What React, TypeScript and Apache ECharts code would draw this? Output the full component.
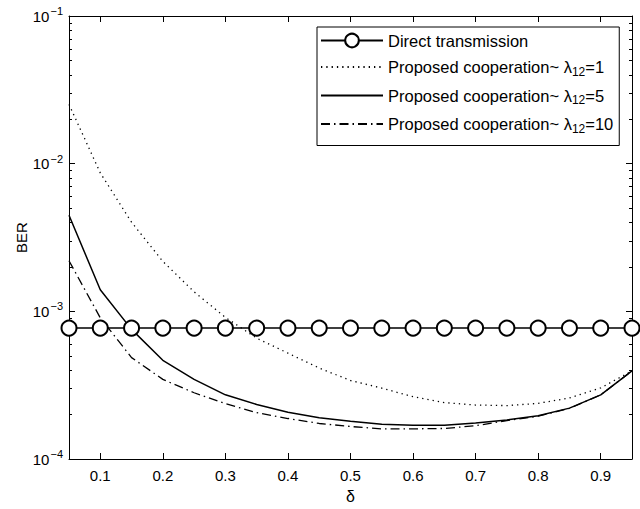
import React, { useEffect, useRef } from 'react';
import * as echarts from 'echarts';

const deltaValues = [0.05, 0.1, 0.15, 0.2, 0.25, 0.3, 0.35, 0.4, 0.45, 0.5, 0.55, 0.6, 0.65, 0.7, 0.75, 0.8, 0.85, 0.9, 0.95];
const directBER = [7.7e-4, 7.7e-4, 7.7e-4, 7.7e-4, 7.7e-4, 7.7e-4, 7.7e-4, 7.7e-4, 7.7e-4, 7.7e-4, 7.7e-4, 7.7e-4, 7.7e-4, 7.7e-4, 7.7e-4, 7.7e-4, 7.7e-4, 7.7e-4, 7.7e-4];
const lambda1BER = [0.0252, 0.00866, 0.00401, 0.00218, 0.001355, 0.00091, 0.000658, 0.000521, 0.000413, 0.00034, 0.000302, 0.000264, 0.000241, 0.000232, 0.00023, 0.000238, 0.000259, 0.000303, 0.000395];
const lambda5BER = [0.00447, 0.0014, 0.000755, 0.000466, 0.000346, 0.000272, 0.000234, 0.000207, 0.00019, 0.00018, 0.000172, 0.000169, 0.000169, 0.000175, 0.000184, 0.000196, 0.000221, 0.000272, 0.000395];
const lambda10BER = [0.0022, 0.000904, 0.000486, 0.000346, 0.000281, 0.000237, 0.000206, 0.000188, 0.000174, 0.000166, 0.00016, 0.00016, 0.000161, 0.000168, 0.000182, 0.000195, 0.00022, 0.000272, 0.000395];

const xTickValues = [0.1, 0.2, 0.3, 0.4, 0.5, 0.6, 0.7, 0.8, 0.9];
const yMajorTicks = [1e-4, 1e-3, 1e-2, 1e-1];
const yMinorTicks = [2e-4, 3e-4, 4e-4, 5e-4, 6e-4, 7e-4, 8e-4, 9e-4, 2e-3, 3e-3, 4e-3, 5e-3, 6e-3, 7e-3, 8e-3, 9e-3, 2e-2, 3e-2, 4e-2, 5e-2, 6e-2, 7e-2, 8e-2, 9e-2];

const seriesNames = ['Direct transmission', 'Proposed cooperation~ λ12=1', 'Proposed cooperation~ λ12=5', 'Proposed cooperation~ λ12=10'];
const legendLabels: Record<string, string> = {
  'Direct transmission': '{t|Direct transmission}',
  'Proposed cooperation~ λ12=1': '{t|Proposed cooperation~ λ}{s|12}{t|=1}',
  'Proposed cooperation~ λ12=5': '{t|Proposed cooperation~ λ}{s|12}{t|=5}',
  'Proposed cooperation~ λ12=10': '{t|Proposed cooperation~ λ}{s|12}{t|=10}',
};

const FONT = '"Liberation Sans", Arial, sans-serif';

export default function App() {
  const ref = useRef<HTMLDivElement>(null);
  useEffect(() => {
    document.body.style.margin = '0';
    const chart = echarts.init(ref.current!, null, { renderer: 'svg' });
    const pairs = (ys: number[]) => deltaValues.map((x, i) => [x, ys[i]]);
    const black = '#000';
    const yBase = { type: 'log', logBase: 10, min: 1e-4, max: 1e-1, splitLine: { show: false } };
    const xBase = { type: 'value', min: 0.05, max: 0.95, splitLine: { show: false } };
    chart.setOption({
      animation: false,
      backgroundColor: '#fff',
      grid: { left: 69, right: 8, top: 16, bottom: 47 },
      legend: {
        orient: 'vertical',
        left: 317,
        top: 27,
        itemWidth: 62,
        itemHeight: 17,
        itemGap: 7.5,
        padding: [5, 6, 11, 3],
        borderColor: '#000',
        borderWidth: 1,
        backgroundColor: '#fff',
        data: [
          { name: seriesNames[0] },
          { name: seriesNames[1], itemStyle: { opacity: 0 } },
          { name: seriesNames[2], itemStyle: { opacity: 0 } },
          { name: seriesNames[3], itemStyle: { opacity: 0 } },
        ],
        formatter: (name: string) => legendLabels[name],
        textStyle: {
          color: black,
          fontFamily: FONT,
          fontSize: 16.5,
          rich: {
            t: { fontSize: 16.5, lineHeight: 20, fontFamily: FONT, color: black },
            s: { fontSize: 12, lineHeight: 12, padding: [9, 0, 0, 0], fontFamily: FONT, color: black },
          },
        },
      },
      xAxis: [
        {
          ...xBase,
          position: 'bottom',
          axisLine: { show: true, onZero: false, lineStyle: { color: black, width: 1 } },
          axisTick: { show: true, inside: true, length: 6, customValues: xTickValues, lineStyle: { color: black } },
          axisLabel: {
            customValues: xTickValues,
            formatter: (v: number) => v.toFixed(1),
            margin: 9,
            color: black,
            fontSize: 15,
            fontFamily: FONT,
          },
          name: 'δ',
          nameLocation: 'middle',
          nameGap: 29,
          nameMoveOverlap: false,
          nameTextStyle: { color: black, fontSize: 16, fontFamily: FONT },
        },
        {
          ...xBase,
          position: 'top',
          axisLine: { show: true, onZero: false, lineStyle: { color: black, width: 1 } },
          axisTick: { show: true, inside: true, length: 6, customValues: xTickValues, lineStyle: { color: black } },
          axisLabel: { show: false },
        },
      ],
      yAxis: [
        {
          ...yBase,
          position: 'left',
          axisLine: { show: true, lineStyle: { color: black, width: 1 } },
          axisTick: { show: true, inside: true, length: 6, customValues: yMajorTicks, lineStyle: { color: black } },
          axisLabel: {
            customValues: yMajorTicks,
            formatter: (v: number) => `{b|10}{p|−${Math.abs(Math.round(Math.log10(v)))}}`,
            margin: 6,
            color: black,
            rich: {
              b: { fontSize: 15, fontFamily: FONT, color: black },
              p: { fontSize: 11, fontFamily: FONT, color: black, padding: [0, 0, 10, 1] },
            },
          },
          name: 'BER',
          nameLocation: 'middle',
          nameGap: 40,
          nameMoveOverlap: false,
          nameTextStyle: { color: black, fontSize: 15, fontFamily: FONT },
        },
        {
          ...yBase,
          position: 'left',
          axisLine: { show: false },
          axisTick: { show: true, inside: true, length: 3, customValues: yMinorTicks, lineStyle: { color: black } },
          axisLabel: { show: false },
        },
        {
          ...yBase,
          position: 'right',
          axisLine: { show: true, lineStyle: { color: black, width: 1 } },
          axisTick: { show: true, inside: true, length: 6, customValues: yMajorTicks, lineStyle: { color: black } },
          axisLabel: { show: false },
        },
        {
          ...yBase,
          position: 'right',
          axisLine: { show: false },
          axisTick: { show: true, inside: true, length: 3, customValues: yMinorTicks, lineStyle: { color: black } },
          axisLabel: { show: false },
        },
      ],
      series: [
        {
          name: seriesNames[0],
          type: 'line',
          data: pairs(directBER),
          symbol: 'emptyCircle',
          symbolSize: 15,
          clip: false,
          z: 5,
          itemStyle: { color: black, borderColor: black, borderWidth: 2.2 },
          lineStyle: { color: black, width: 1.5 },
        },
        {
          name: seriesNames[1],
          type: 'line',
          data: pairs(lambda1BER),
          symbol: 'none',
          itemStyle: { color: black },
          lineStyle: { color: black, width: 1.3, type: [1.3, 4] },
        },
        {
          name: seriesNames[2],
          type: 'line',
          data: pairs(lambda5BER),
          symbol: 'none',
          itemStyle: { color: black },
          lineStyle: { color: black, width: 1.5 },
        },
        {
          name: seriesNames[3],
          type: 'line',
          data: pairs(lambda10BER),
          symbol: 'none',
          itemStyle: { color: black },
          lineStyle: { color: black, width: 1.3, type: [9, 4, 1.5, 4] },
        },
      ],
    });
    return () => chart.dispose();
  }, []);
  return <div ref={ref} style={{ width: 640, height: 509 }} />;
}
